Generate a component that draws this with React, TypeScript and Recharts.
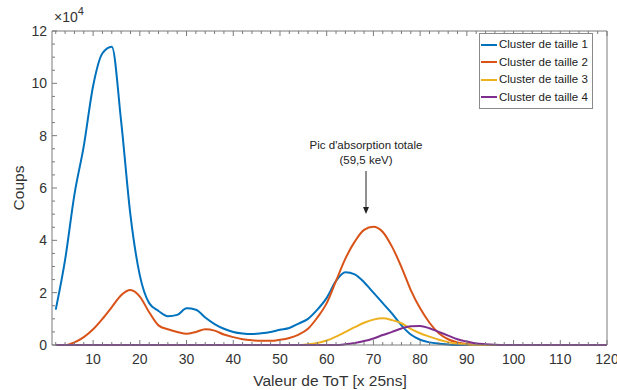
import React from "react";
import { LineChart, Line, XAxis, YAxis } from "recharts";

// ToT values (x 25ns), counts
const tot = [
  2, 4, 6, 8, 10, 12, 14, 16, 18, 20, 22, 24, 26, 28, 30, 32, 34, 36, 38, 40,
  42, 44, 46, 48, 50, 52, 54, 56, 58, 60, 62, 64, 66, 68, 70, 72, 74, 76, 78, 80,
  82, 84, 86, 88, 90, 92, 94, 96, 98, 100, 102, 104, 106, 108, 110, 112, 114, 116, 118, 120,
];

// counts in units of 1e4
const cluster1 = [
  1.35, 3.25, 5.75, 7.6, 9.9, 11.15, 11.4, 8.55, 4.95, 2.66, 1.6, 1.3, 1.1, 1.15, 1.4, 1.35, 1.05, 0.8, 0.62, 0.5,
  0.44, 0.42, 0.45, 0.5, 0.58, 0.65, 0.82, 1.0, 1.35, 1.8, 2.45, 2.78, 2.7, 2.4, 2.0, 1.6, 1.2, 0.75, 0.4, 0.2,
  0.1, 0.05, 0.02, 0, 0, 0, 0, 0, 0, 0, 0, 0, 0, 0, 0, 0, 0, 0, 0, 0,
];
const cluster2 = [
  0, 0, 0.1, 0.3, 0.6, 1.0, 1.45, 1.9, 2.1, 1.85, 1.25, 0.75, 0.6, 0.5, 0.43, 0.5, 0.6, 0.55, 0.4, 0.3,
  0.22, 0.18, 0.16, 0.16, 0.2, 0.27, 0.4, 0.62, 1.05, 1.6, 2.45, 3.3, 3.95, 4.4, 4.52, 4.32, 3.75, 2.98, 2.1, 1.4,
  0.85, 0.45, 0.22, 0.1, 0.04, 0.01, 0, 0, 0, 0, 0, 0, 0, 0, 0, 0, 0, 0, 0, 0,
];
const cluster3 = [
  0, 0, 0, 0, 0, 0, 0, 0, 0, 0, 0, 0, 0, 0, 0, 0, 0, 0, 0, 0,
  0, 0, 0, 0, 0, 0, 0, 0.03, 0.08, 0.17, 0.32, 0.5, 0.68, 0.85, 0.97, 1.02, 0.95, 0.83, 0.62, 0.45,
  0.32, 0.2, 0.11, 0.05, 0.02, 0, 0, 0, 0, 0, 0, 0, 0, 0, 0, 0, 0, 0, 0, 0,
];
const cluster4 = [
  0, 0, 0, 0, 0, 0, 0, 0, 0, 0, 0, 0, 0, 0, 0, 0, 0, 0, 0, 0,
  0, 0, 0, 0, 0, 0, 0, 0, 0, 0, 0, 0.03, 0.08, 0.15, 0.25, 0.38, 0.5, 0.63, 0.72, 0.73,
  0.64, 0.5, 0.36, 0.22, 0.13, 0.06, 0.03, 0.01, 0, 0, 0, 0, 0, 0, 0, 0, 0, 0, 0, 0,
];

const seriesNames = ["Cluster de taille 1", "Cluster de taille 2", "Cluster de taille 3", "Cluster de taille 4"];
const colors = ["#0072BD", "#D95319", "#EDB120", "#7E2F8E"];

const xTicks = [2, 4, 6, 8, 10, 12, 14, 16, 18, 20, 22, 24, 26, 28, 30, 32, 34, 36, 38, 40, 42, 44, 46, 48, 50, 52, 54, 56, 58, 60, 62, 64, 66, 68, 70, 72, 74, 76, 78, 80, 82, 84, 86, 88, 90, 92, 94, 96, 98, 100, 102, 104, 106, 108, 110, 112, 114, 116, 118, 120];
const yTicks = [0, 5000, 10000, 15000, 20000, 25000, 30000, 35000, 40000, 45000, 50000, 55000, 60000, 65000, 70000, 75000, 80000, 85000, 90000, 95000, 100000, 105000, 110000, 115000, 120000];

const data = tot.map((x, i) => ({
  x,
  c1: cluster1[i] * 1e4,
  c2: cluster2[i] * 1e4,
  c3: cluster3[i] * 1e4,
  c4: cluster4[i] * 1e4,
}));

const FONT = "'Liberation Sans', Arial, sans-serif";
const AXIS = "#7a7a7a";
const TEXT = "#333";

const isMajorX = (v: number) => v % 10 === 0;
const isMajorY = (v: number) => v % 20000 === 0;

// MATLAB style ticks: marks pointing inward, labels outside
function BottomTick(props: any) {
  const { x, y, payload } = props;
  const v = payload.value;
  const len = isMajorX(v) ? 5 : 3;
  return (
    <g>
      <line x1={x} x2={x} y1={y} y2={y - len} stroke={AXIS} />
      {isMajorX(v) && (
        <text x={x} y={y + 19} textAnchor="middle" fontSize={14} fill={TEXT} fontFamily={FONT}>
          {v}
        </text>
      )}
    </g>
  );
}
function TopTick(props: any) {
  const { x, y, payload } = props;
  const len = isMajorX(payload.value) ? 5 : 3;
  return <line x1={x} x2={x} y1={y} y2={y + len} stroke={AXIS} />;
}
function LeftTick(props: any) {
  const { x, y, payload } = props;
  const v = payload.value;
  const len = isMajorY(v) ? 5 : 3;
  return (
    <g>
      <line x1={x} x2={x + len} y1={y} y2={y} stroke={AXIS} />
      {isMajorY(v) && (
        <text x={x - 5} y={y + 5} textAnchor="end" fontSize={14} fill={TEXT} fontFamily={FONT}>
          {v / 1e4}
        </text>
      )}
    </g>
  );
}
function RightTick(props: any) {
  const { x, y, payload } = props;
  const len = isMajorY(payload.value) ? 5 : 3;
  return <line x1={x} x2={x - len} y1={y} y2={y} stroke={AXIS} />;
}

function LegendBox() {
  return (
    <div
      style={{
        position: "absolute",
        left: 479,
        top: 33,
        border: "1px solid #8a8a8a",
        background: "#fff",
        padding: "2px 4px 2px 1px",
        fontFamily: FONT,
        fontSize: 11.5,
        color: "#222",
        lineHeight: "17.5px",
      }}
    >
      {seriesNames.map((n, i) => (
        <div key={n} style={{ display: "flex", alignItems: "center", whiteSpace: "nowrap" }}>
          <span style={{ display: "inline-block", width: 16, height: 2, background: colors[i], marginRight: 2 }} />
          {n}
        </div>
      ))}
    </div>
  );
}

export default function App() {
  return (
    <div style={{ position: "absolute", left: 0, top: 0, width: 617, height: 390, background: "#fff" }}>
      <LineChart width={617} height={390} data={data} margin={{ top: 30, right: 9, bottom: 0, left: 0 }}>
        <XAxis
          xAxisId="b"
          dataKey="x"
          type="number"
          domain={[1.2, 120]}
          ticks={xTicks}
          interval={0}
          height={45}
          tickSize={0}
          tickMargin={0}
          tickLine={false}
          stroke={AXIS}
          tick={<BottomTick />}
        />
        <XAxis
          xAxisId="t"
          orientation="top"
          dataKey="x"
          type="number"
          domain={[1.2, 120]}
          ticks={xTicks}
          interval={0}
          height={1}
          tickSize={0}
          tickMargin={0}
          tickLine={false}
          stroke={AXIS}
          tick={<TopTick />}
        />
        <YAxis
          yAxisId="l"
          type="number"
          domain={[0, 120000]}
          ticks={yTicks}
          interval={0}
          width={52}
          tickSize={0}
          tickMargin={0}
          tickLine={false}
          stroke={AXIS}
          tick={<LeftTick />}
        />
        <YAxis
          yAxisId="r"
          orientation="right"
          type="number"
          domain={[0, 120000]}
          ticks={yTicks}
          interval={0}
          width={1}
          tickSize={0}
          tickMargin={0}
          tickLine={false}
          stroke={AXIS}
          tick={<RightTick />}
        />
        {["c1", "c2", "c3", "c4"].map((k, i) => (
          <Line
            key={k}
            xAxisId="b"
            yAxisId="l"
            dataKey={k}
            name={seriesNames[i]}
            type="monotone"
            stroke={colors[i]}
            strokeWidth={2}
            dot={false}
            isAnimationActive={false}
          />
        ))}
      </LineChart>
      <svg
        width={617}
        height={390}
        style={{ position: "absolute", left: 0, top: 0, pointerEvents: "none" }}
        fontFamily={FONT}
      >
        <text x={54} y={22} fontSize={14} fill={TEXT}>
          ×10
          <tspan dy={-7} fontSize={11}>4</tspan>
        </text>
        <text x={330} y={386} textAnchor="middle" fontSize={15.5} fill={TEXT}>
          Valeur de ToT [x 25ns]
        </text>
        <text x={24} y={188} textAnchor="middle" fontSize={15.5} fill={TEXT} transform="rotate(-90 24 188)">
          Coups
        </text>
        <text x={366} y={149} textAnchor="middle" fontSize={11.5} fill="#222">
          Pic d'absorption totale
        </text>
        <text x={366} y={164} textAnchor="middle" fontSize={11.5} fill="#222">
          (59,5 keV)
        </text>
        <line x1={366} x2={366} y1={171} y2={209} stroke="#222" strokeWidth={1} />
        <path d="M363,207 L369,207 L366,214 Z" fill="#222" />
      </svg>
      <LegendBox />
    </div>
  );
}
